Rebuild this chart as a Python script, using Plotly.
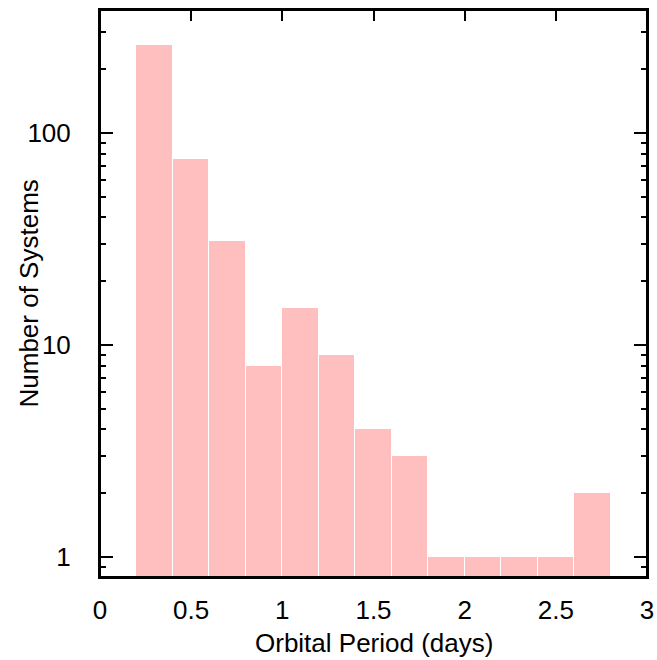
import plotly.graph_objects as go

# Histogram of orbital periods (bin width 0.2 days)
bin_left = [0.2, 0.4, 0.6, 0.8, 1.0, 1.2, 1.4, 1.6, 1.8, 2.0, 2.2, 2.4, 2.6]
counts = [260, 75, 31, 8, 15, 9, 4, 3, 1, 1, 1, 1, 2]
bin_width = 0.2

x_ticks = [0, 0.5, 1, 1.5, 2, 2.5, 3]
x_tick_text = ["0", "0.5", "1", "1.5", "2", "2.5", "3"]
y_ticks = [1, 10, 100]
y_tick_text = ["1", "10", "100"]
y_minor = [0.9] + list(range(2, 10)) + list(range(20, 100, 10)) + [200, 300]

font = dict(family="Liberation Sans, Arial, Helvetica, sans-serif", size=26, color="black")

fig = go.Figure(
    go.Bar(
        x=[b + bin_width / 2 for b in bin_left],
        y=counts,
        width=bin_width,
        marker=dict(color="#ffbfbf", line=dict(color="white", width=1)),
        showlegend=False,
    )
)

fig.update_layout(
    width=657,
    height=660,
    margin=dict(l=100, r=10, t=10, b=83),
    paper_bgcolor="white",
    plot_bgcolor="white",
    font=font,
    bargap=0,
    shapes=[
        dict(type="rect", xref="paper", yref="paper", x0=0, y0=0, x1=1, y1=1,
             line=dict(color="black", width=2), layer="above")
    ],
    annotations=[
        dict(text="Orbital Period (days)", xref="paper", yref="paper", x=0.5, y=0,
             xanchor="center", yanchor="middle", yshift=-66, showarrow=False, font=font),
        dict(text="Number of Systems", xref="paper", yref="paper", x=0, y=0.5,
             xanchor="center", yanchor="middle", xshift=-72, textangle=-90,
             showarrow=False, font=font),
    ],
)

fig.update_xaxes(
    range=[0, 3],
    tickmode="array",
    tickvals=x_ticks,
    ticktext=x_tick_text,
    ticks="inside",
    ticklen=11,
    tickwidth=1.5,
    tickcolor="black",
    mirror="ticks",
    showline=True,
    linecolor="black",
    linewidth=2,
    showgrid=False,
    zeroline=False,
    layer="below traces",
    ticklabelstandoff=9,
    automargin=False,
)

fig.update_yaxes(
    type="log",
    range=[-0.094, 2.58],
    tickmode="array",
    tickvals=y_ticks,
    ticktext=y_tick_text,
    ticks="inside",
    ticklen=13,
    tickwidth=1.5,
    tickcolor="black",
    minor=dict(tickmode="array", tickvals=y_minor, ticks="inside", ticklen=6,
               tickwidth=1.5, tickcolor="black", showgrid=False),
    mirror="ticks",
    showline=True,
    linecolor="black",
    linewidth=2,
    showgrid=False,
    zeroline=False,
    layer="below traces",
    ticklabelstandoff=22,
    automargin=False,
)

fig.write_html("out.html")
